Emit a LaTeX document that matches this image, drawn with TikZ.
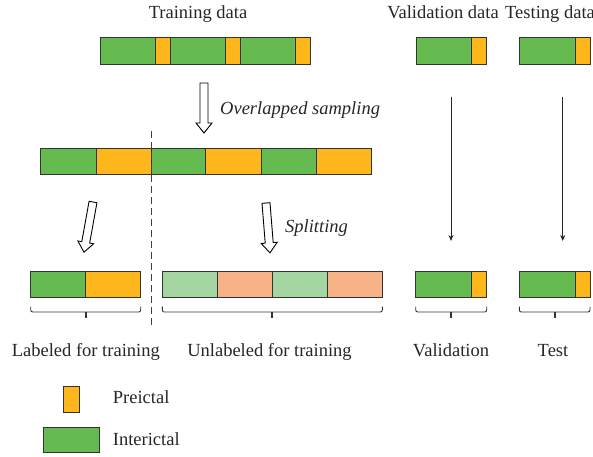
\documentclass[tikz,border=0pt]{standalone}
\usepackage{fontspec}
\setmainfont{Liberation Serif}
\usetikzlibrary{arrows.meta}
\definecolor{inter}{HTML}{65BB50}
\definecolor{pre}{HTML}{FDB61B}
\definecolor{interlight}{HTML}{A5D5A0}
\definecolor{prelight}{HTML}{F8B287}
\definecolor{edge}{HTML}{333333}
\tikzset{
  seg/.style={draw=edge, line width=1pt},
  gseg/.style={seg, fill=inter},
  oseg/.style={seg, fill=pre},
  lgseg/.style={seg, fill=interlight},
  loseg/.style={seg, fill=prelight},
  lbl/.style={anchor=base, inner sep=0pt, text=black!85},
  thin arrow/.style={draw=black!85, line width=0.9pt, -{Stealth[length=6pt,width=5pt]}},
  bracepath/.style={draw=black!80, line width=0.9pt, rounded corners=2pt},
  pics/hollowarrow/.style={code={
    \draw[line width=0.9pt, fill=white, line join=miter]
      (0,-4) -- ({#1-10},-4) -- ({#1-10},-8) -- (#1,0) -- ({#1-10},8)
      -- ({#1-10},4) -- (0,4) -- cycle;}}
}
% group brace: corners turned up at both ends, tick pointing down at the centre
\newcommand\groupbrace[3]{%
  \draw[bracepath] (#1,306.5) -- (#1,312) -- (#2,312) -- (#2,306.5);
  \draw[draw=black!80, line width=1.8pt] ({(#1+#2)/2},312) -- ({(#1+#2)/2},318);
  \coordinate (#3) at ({(#1+#2)/2},318);}
\begin{document}
\begin{tikzpicture}[x=1pt, y=-1pt, font=\fontsize{18.5}{22}\selectfont]
\useasboundingbox (0,0) rectangle (593,456);

% headings
\node[lbl] (trainhead) at (198,18) {Training data};
\node[lbl] (valhead) at (443,18) {Validation data};
\node[lbl, anchor=base west] (testhead) at (505,18) {Testing data};

% raw training stream
\draw[gseg] (100,37.5) rectangle (155,64);
\draw[oseg] (155,37.5) rectangle (170,64);
\draw[gseg] (170,37.5) rectangle (225.7,64);
\draw[oseg] (225.7,37.5) rectangle (240.7,64);
\draw[gseg] (240.7,37.5) rectangle (295.7,64);
\draw[oseg] (295.7,37.5) rectangle (310.7,64);

% validation and testing streams
\draw[gseg] (416,37.5) rectangle (471.7,64);
\draw[oseg] (471.7,37.5) rectangle (486,64);
\draw[gseg] (519.5,37.5) rectangle (575,64);
\draw[oseg] (575,37.5) rectangle (590,64);

% overlapped sampling
\pic (sampling) at (204,83) [rotate=-90] {hollowarrow=50};
\node[lbl, anchor=base west, font=\fontsize{18.5}{22}\selectfont\itshape] (samplinglbl) at (220,114.3) {Overlapped sampling};

% sampled windows
\draw[gseg] (40,148) rectangle (96,174);
\draw[oseg] (96,148) rectangle (151,174);
\draw[gseg] (151,148) rectangle (205.7,174);
\draw[oseg] (205.7,148) rectangle (261,174);
\draw[gseg] (261,148) rectangle (316,174);
\draw[oseg] (316,148) rectangle (371,174);

% separation between labeled and unlabeled parts
\draw[draw=black!75, line width=0.9pt, dash pattern=on 7pt off 4pt] (151,131) -- (151,328);

% splitting
\pic (splitL) at (93,202) [rotate=-100.2] {hollowarrow=51};
\pic (splitR) at (266,203) [rotate=-85.4] {hollowarrow=50};
\node[lbl, anchor=base west, font=\fontsize{18.5}{22}\selectfont\itshape] (splitlbl) at (285,232.7) {Splitting};

% labeled windows
\draw[gseg] (30.7,271) rectangle (85.7,297.3);
\draw[oseg] (85.7,271) rectangle (140.7,297.3);

% unlabeled windows
\draw[lgseg] (162.3,271) rectangle (217.7,297.3);
\draw[loseg] (217.7,271) rectangle (272.7,297.3);
\draw[lgseg] (272.7,271) rectangle (327.7,297.3);
\draw[loseg] (327.7,271) rectangle (382.3,297.3);

% validation and test windows
\draw[gseg] (415.7,271) rectangle (471.7,297.3);
\draw[oseg] (471.7,271) rectangle (486.7,297.3);
\draw[gseg] (519.3,271) rectangle (575,297.3);
\draw[oseg] (575,271) rectangle (590,297.3);

% pass-through arrows
\coordinate (valfrom) at (451,97);
\coordinate (valto) at (451,241);
\coordinate (testfrom) at (562.7,97);
\coordinate (testto) at (562.7,241);
\draw[thin arrow] (valfrom) -- (valto);
\draw[thin arrow] (testfrom) -- (testto);

% braces
\groupbrace{30.7}{140.7}{bl}
\groupbrace{162.3}{382.3}{bu}
\groupbrace{415.7}{486.7}{bv}
\groupbrace{519.3}{590}{bt}

% captions
\node[lbl] (labeled) at (85.8,356.7) {Labeled for training};
\node[lbl] (unlabeled) at (269.5,356.7) {Unlabeled for training};
\node[lbl] (validation) at (451,356.7) {Validation};
\node[lbl] (test) at (553,356.7) {Test};

% legend
\draw[oseg] (63.3,386) rectangle (79.3,412.3);
\node[lbl, anchor=base west] (prelbl) at (112.7,403.3) {Preictal};
\draw[gseg] (43.3,427.3) rectangle (99.3,452.7);
\node[lbl, anchor=base west] (interlbl) at (112.7,445) {Interictal};
\end{tikzpicture}
\end{document}
